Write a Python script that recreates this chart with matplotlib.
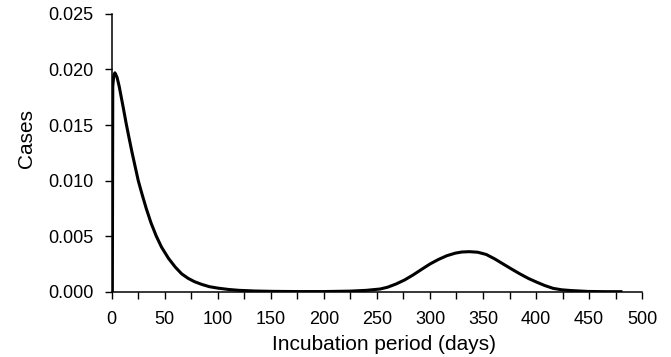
import matplotlib
matplotlib.use("Agg")
import matplotlib.pyplot as plt
from matplotlib.ticker import MultipleLocator, FormatStrFormatter

# values (days, cases)
days = [0.0, 0.6, 1.0, 2.0, 3.0, 5.0, 7.0, 9.0, 11.0, 13.5, 16.0, 19.0,
        22.0, 25.0, 28.5, 32.5, 37.0, 42.0, 47.0, 53.5, 60.0, 66.0, 72.0,
        78.0, 85.0, 92.0, 100.0, 110.0, 120.0, 135.0, 150.0, 175.0,
        200.0, 225.0, 240.0, 253.0, 260.0, 268.0, 276.0, 284.0, 292.0,
        300.0, 308.0, 316.0, 324.0, 330.0, 337.0, 345.0, 353.0, 361.0,
        369.0, 377.0, 385.0, 393.0, 401.0, 408.0, 416.0, 424.0, 433.0,
        449.0, 465.0, 480.0]
cases = [0.0, 0.0, 0.0185, 0.0195, 0.0197, 0.0193, 0.0185, 0.0175, 0.0165,
         0.0152, 0.0140, 0.0126, 0.0113, 0.0100, 0.0088, 0.0075, 0.0062,
         0.0050, 0.0040, 0.0030, 0.0022, 0.0016, 0.0012, 0.0009, 0.00065,
         0.00045, 0.00032, 0.0002, 0.00012, 0.00006, 0.00003, 0.00001,
         0.00001, 0.00005, 0.00012, 0.00024, 0.0004, 0.00069, 0.00105,
         0.0015, 0.002, 0.00249, 0.0029, 0.00324, 0.00347, 0.00357,
         0.0036, 0.00355, 0.00335, 0.00295, 0.00249, 0.00203, 0.00159,
         0.00118, 0.00084, 0.00056, 0.0003, 0.00017, 0.0001, 0.00002,
         0.0, 0.0]

plt.rcParams['font.family'] = ['Liberation Sans', 'DejaVu Sans']

fig = plt.figure(figsize=(6.71, 3.57), dpi=100)
ax = fig.add_axes([0.1665, 0.183, 0.7905, 0.778])

ax.plot(days, cases, color='black', linewidth=2.2, solid_joinstyle='round')

ax.set_xlim(0, 500)
ax.set_ylim(0, 0.025)
ax.xaxis.set_major_locator(MultipleLocator(50))
ax.xaxis.set_minor_locator(MultipleLocator(25))
ax.yaxis.set_major_locator(MultipleLocator(0.005))
ax.yaxis.set_major_formatter(FormatStrFormatter('%.3f'))

for side in ['top', 'right']:
    ax.spines[side].set_visible(False)
for side in ['left', 'bottom']:
    ax.spines[side].set_linewidth(1.1)

ax.tick_params(axis='both', which='both', direction='out', length=5, width=1.0,
               labelsize=13, colors='black')
ax.tick_params(axis='x', pad=9)
ax.tick_params(axis='y', pad=8)

ax.set_xlabel('Incubation period (days)', fontsize=15, labelpad=5)
ax.set_ylabel('Cases', fontsize=15, labelpad=9)
ax.xaxis.label.set_x(0.514)
ax.yaxis.label.set_y(0.553)

fig.savefig('out.png', dpi=100)
